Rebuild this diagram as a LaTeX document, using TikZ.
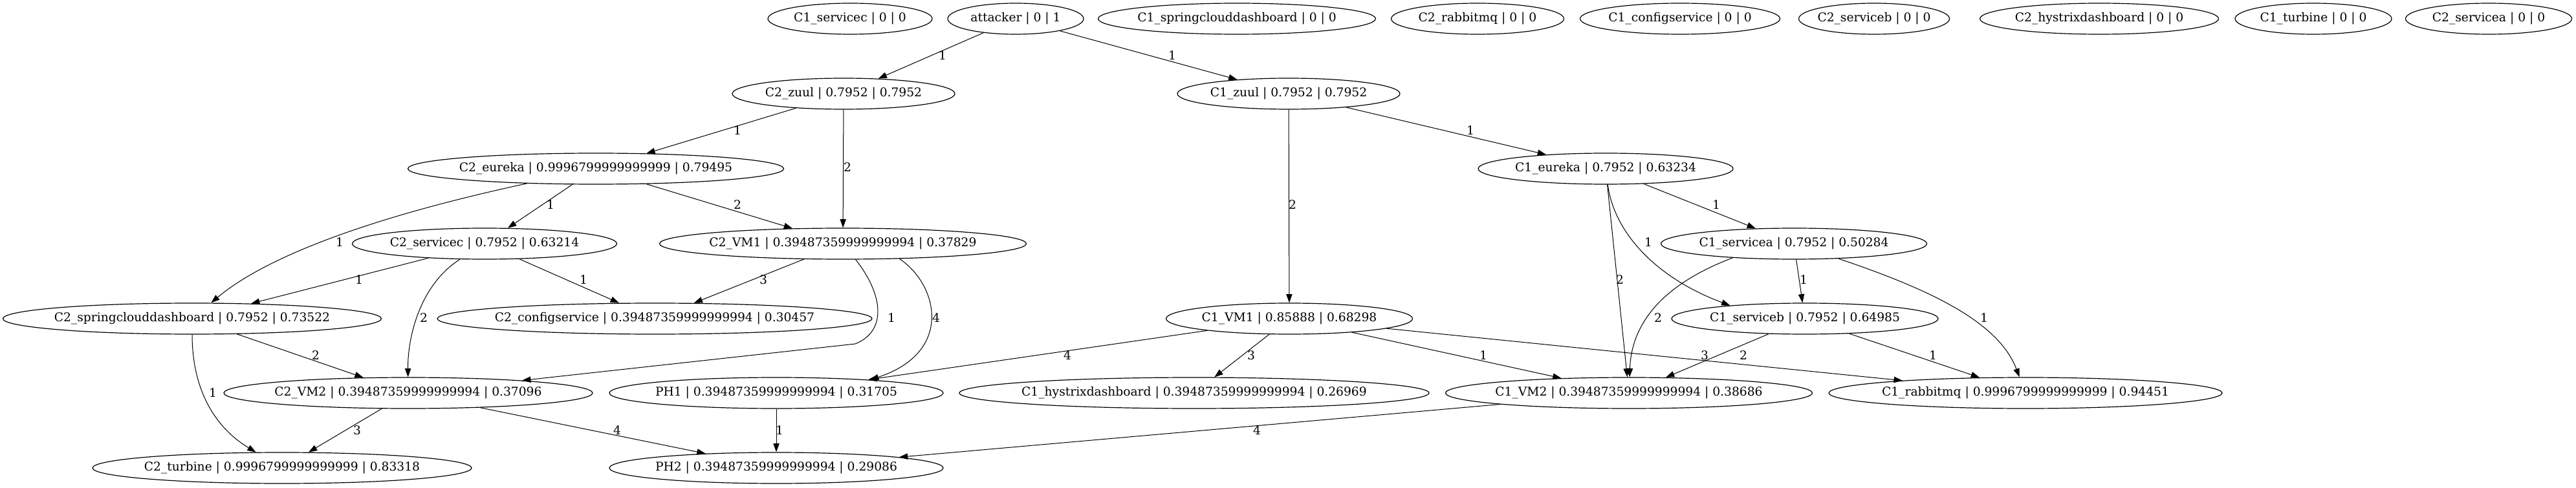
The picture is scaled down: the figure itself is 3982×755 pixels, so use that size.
\documentclass[tikz,border=0pt]{standalone}
\usepackage{fontspec}
\setmainfont{DejaVu Serif}
\usetikzlibrary{arrows.meta,shapes.geometric}
\tikzset{
  gv/.style={ellipse, draw, line width=0.9pt, inner sep=0pt, minimum height=36pt,
    font=\fontsize{14pt}{16pt}\selectfont},
  elab/.style={inner sep=0pt, font=\fontsize{14pt}{16pt}\selectfont},
  ed/.style={line width=0.75pt, -{Triangle[length=10pt,width=7pt]}}
}
\newcommand{\gvnode}[4]{\node[gv, minimum width=0.75pt*#3] (#1) at (#2) {\makebox[0pt]{#4}};}
\newcommand{\gvlab}[3]{\node[elab] (#1) at (#2) {#3};}
\begin{document}
\begin{tikzpicture}[x=0.75pt,y=-0.75pt]
\useasboundingbox (0,0) rectangle (3982,755);
% row 0
\gvnode{C1servicec}{1314,29}{254}{C1\_servicec | 0 | 0}
\gvnode{attacker}{1570,29}{210}{attacker | 0 | 1}
\gvnode{C1sdb}{1912,29}{429}{C1\_springclouddashboard | 0 | 0}
\gvnode{C2rabbitmq}{2284,29}{267}{C2\_rabbitmq | 0 | 0}
\gvnode{C1configservice}{2597,29}{309}{C1\_configservice | 0 | 0}
\gvnode{C2serviceb}{2897,29}{233}{C2\_serviceb | 0 | 0}
\gvnode{C2hystrix}{3245,29}{369}{C2\_hystrixdashboard | 0 | 0}
\gvnode{C1turbine}{3576,29}{242}{C1\_turbine | 0 | 0}
\gvnode{C2servicea}{3847,29}{257}{C2\_servicea | 0 | 0}
% row 1
\gvnode{C2zuul}{1304,145}{344}{C2\_zuul | 0.7952 | 0.7952}
\gvnode{C1zuul}{1992,145}{344}{C1\_zuul | 0.7952 | 0.7952}
% row 2
\gvnode{C2eureka}{921,261}{581}{C2\_eureka | 0.9996799999999999 | 0.79495}
\gvnode{C1eureka}{2482,261}{394}{C1\_eureka | 0.7952 | 0.63234}
% row 3
\gvnode{C2servicec}{749,377}{409}{C2\_servicec | 0.7952 | 0.63214}
\gvnode{C2VM1}{1303,377}{567}{C2\_VM1 | 0.39487359999999994 | 0.37829}
\gvnode{C1servicea}{2773,377}{411}{C1\_servicea | 0.7952 | 0.50284}
% row 4
\gvnode{C2sdb}{297,493}{585}{C2\_springclouddashboard | 0.7952 | 0.73522}
\gvnode{C2configservice}{1012,493}{672}{C2\_configservice | 0.39487359999999994 | 0.30457}
\gvnode{C1VM1}{1993,493}{381}{C1\_VM1 | 0.85888 | 0.68298}
\gvnode{C1serviceb}{2790,493}{412}{C1\_serviceb | 0.7952 | 0.64985}
% row 5
\gvnode{C2VM2}{631,608}{570}{C2\_VM2 | 0.39487359999999994 | 0.37096}
\gvnode{PH1}{1200,608}{516}{PH1 | 0.39487359999999994 | 0.31705}
\gvnode{C1hystrix}{1846,608}{726}{C1\_hystrixdashboard | 0.39487359999999994 | 0.26969}
\gvnode{C1VM2}{2518,608}{567}{C1\_VM2 | 0.39487359999999994 | 0.38686}
\gvnode{C1rabbitmq}{3131,608}{608}{C1\_rabbitmq | 0.9996799999999999 | 0.94451}
% row 6
\gvnode{C2turbine}{436,724}{586}{C2\_turbine | 0.9996799999999999 | 0.83318}
\gvnode{PH2}{1200,724}{516}{PH2 | 0.39487359999999994 | 0.29086}

% edges
\draw[ed] (attacker) -- (C2zuul);
\draw[ed] (attacker) -- (C1zuul);
\draw[ed] (C2zuul) -- (C2eureka);
\draw[ed] (C2zuul) -- (C2VM1);
\draw[ed] (C1zuul) -- (C1eureka);
\draw[ed] (C1zuul) -- (C1VM1);
\draw[ed] (C2eureka) .. controls (600,330) and (420,390) .. (C2sdb);
\draw[ed] (C2eureka) -- (C2servicec);
\draw[ed] (C2eureka) -- (C2VM1);
\draw[ed] (C2servicec) -- (C2sdb);
\draw[ed] (C2servicec) -- (C2configservice);
\draw[ed] (C2servicec) .. controls (650,440) and (630,520) .. (C2VM2);
\draw[ed] (C2VM1) -- (C2configservice);
\draw[ed] (C2VM1) .. controls (1365,455) and (1372,512) .. (1322,532) -- (C2VM2);
\draw[ed] (C2VM1.-15) .. controls (1450,440) and (1475,545) .. (PH1.8);
\draw[ed] (C2sdb) -- (C2VM2);
\draw[ed] (C2sdb) .. controls (297,600) and (330,660) .. (C2turbine);
\draw[ed] (C2VM2) -- (C2turbine);
\draw[ed] (C2VM2) -- (PH2);
\draw[ed] (PH1) -- (PH2);
\draw[ed] (C1VM1) -- (PH1);
\draw[ed] (C1VM1) -- (C1hystrix);
\draw[ed] (C1VM1) -- (C1VM2);
\draw[ed] (C1VM1) -- (C1rabbitmq);
\draw[ed] (C1VM2) -- (PH2);
\draw[ed] (C1eureka) -- (C1servicea);
\draw[ed] (C1eureka) -- (C1VM2);
\draw[ed] (C1eureka) .. controls (2495,360) and (2560,430) .. (C1serviceb.170);
\draw[ed] (C1servicea) -- (C1serviceb);
\draw[ed] (C1servicea.193) .. controls (2570,440) and (2522,500) .. (C1VM2);
\draw[ed] (C1servicea) .. controls (2990,450) and (3090,500) .. (C1rabbitmq);
\draw[ed] (C1serviceb) -- (C1VM2);
\draw[ed] (C1serviceb) -- (C1rabbitmq);

% edge labels
\gvlab{la}{1457,86}{1}
\gvlab{lb}{1812,86}{1}
\gvlab{lc}{1140,202}{1}
\gvlab{ld}{1310,259}{2}
\gvlab{le}{2273,202}{1}
\gvlab{lf}{1998,317}{2}
\gvlab{lg}{525,375}{1}
\gvlab{lh}{851,317}{1}
\gvlab{li}{1140,317}{2}
\gvlab{lj}{555,433}{1}
\gvlab{lk}{902,433}{1}
\gvlab{ll}{655,492}{2}
\gvlab{lm}{1180,433}{3}
\gvlab{ln}{1378,492}{1}
\gvlab{lo}{1447,492}{4}
\gvlab{lp}{488,550}{2}
\gvlab{lq}{329,608}{1}
\gvlab{lr}{552,666}{3}
\gvlab{ls}{954,666}{4}
\gvlab{lt}{1205,666}{1}
\gvlab{lu}{1650,550}{4}
\gvlab{lv}{1934,550}{3}
\gvlab{lw}{2293,550}{1}
\gvlab{lx}{2635,550}{3}
\gvlab{ly}{1943,666}{4}
\gvlab{lz}{2653,317}{1}
\gvlab{lA}{2504,433}{2}
\gvlab{lB}{2548,375}{1}
\gvlab{lC}{2788,433}{1}
\gvlab{lD}{2563,492}{2}
\gvlab{lE}{3067,492}{1}
\gvlab{lF}{2695,550}{2}
\gvlab{lG}{2988,550}{1}
\end{tikzpicture}
\end{document}
